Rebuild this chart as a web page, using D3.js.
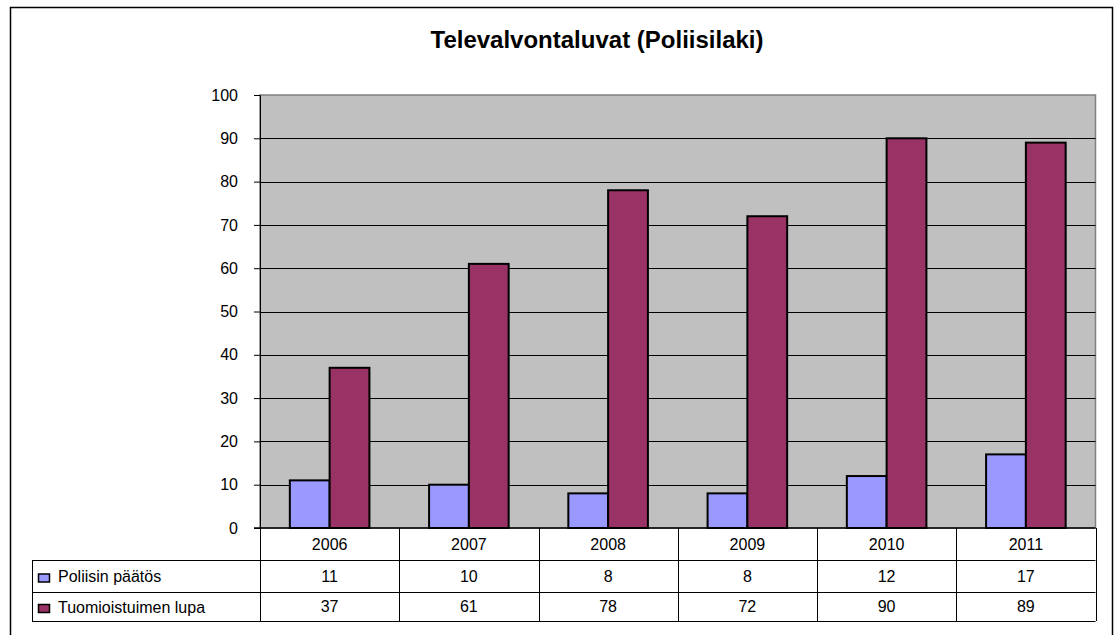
<!DOCTYPE html>
<html>
<head>
<meta charset="utf-8">
<script src="https://cdn.jsdelivr.net/npm/d3@7"></script>
<style>
  body { margin: 0; background: #fff; }
  svg { display: block; font-family: Arial, "Liberation Sans", sans-serif; }
</style>
</head>
<body>
<svg width="1116" height="635"></svg>
<script>
const years = ['2006', '2007', '2008', '2009', '2010', '2011']
const seriesNames = ['Poliisin päätös', 'Tuomioistuimen lupa']
const poliisi = [11, 10, 8, 8, 12, 17]
const tuomio = [37, 61, 78, 72, 90, 89]
const yTicks = [0, 10, 20, 30, 40, 50, 60, 70, 80, 90, 100]
const colors = ['#9999ff', '#993366']

const svg = d3.select('svg')

// chart frame
svg.append('rect')
  .attr('x', 10.5).attr('y', 7.5)
  .attr('width', 1102).attr('height', 640)
  .attr('fill', '#fff').attr('stroke', '#000').attr('stroke-width', 1.5)

const plot = { left: 260, top: 95, right: 1095.5, bottom: 528 }

const x = d3.scaleBand().domain(years).range([plot.left, plot.right])
const y = d3.scaleLinear().domain([0, 100]).range([plot.bottom, plot.top])
const xs = d3.scaleBand().domain(seriesNames)
  .range([0, x.bandwidth()]).paddingInner(0).paddingOuter(0.75)

svg.append('text')
  .attr('x', 597).attr('y', 48)
  .attr('text-anchor', 'middle')
  .attr('font-size', 24).attr('font-weight', 'bold')
  .text('Televalvontaluvat (Poliisilaki)')

// plot area
svg.append('rect')
  .attr('x', plot.left).attr('y', plot.top)
  .attr('width', plot.right - plot.left).attr('height', plot.bottom - plot.top)
  .attr('fill', '#c0c0c0').attr('stroke', '#808080').attr('stroke-width', 1.5)

// gridlines
svg.append('g')
  .selectAll('line')
  .data(yTicks.filter(d => d > 0 && d < 100))
  .join('line')
  .attr('x1', plot.left).attr('x2', plot.right)
  .attr('y1', d => Math.round(y(d)) + 0.5).attr('y2', d => Math.round(y(d)) + 0.5)
  .attr('stroke', '#000').attr('stroke-width', 1)

// y axis
const yAxis = svg.append('g')
  .attr('transform', `translate(${plot.left},0)`)
  .call(d3.axisLeft(y).tickValues(yTicks).tickSize(6).tickPadding(16))
yAxis.select('.domain').attr('stroke', '#000')
yAxis.selectAll('text').attr('font-size', 16).attr('fill', '#000')
  .attr('font-family', 'Arial, "Liberation Sans", sans-serif')

// bars
const series = [poliisi, tuomio]
series.forEach((vals, si) => {
  svg.append('g')
    .selectAll('rect')
    .data(vals)
    .join('rect')
    .attr('x', (d, i) => x(years[i]) + xs(seriesNames[si]))
    .attr('y', d => y(d))
    .attr('width', xs.bandwidth())
    .attr('height', d => y(0) - y(d))
    .attr('fill', colors[si])
    .attr('stroke', '#000').attr('stroke-width', 2)
})

// x axis line
svg.append('line')
  .attr('x1', plot.left - 6).attr('x2', plot.right)
  .attr('y1', plot.bottom).attr('y2', plot.bottom)
  .attr('stroke', '#000').attr('stroke-width', 1.5)

// data table
const rowY = [528, 560, 592, 621]
const tableLeft = 32
const table = svg.append('g').attr('stroke', '#000').attr('stroke-width', 1)

// horizontal lines
rowY.slice(1).forEach(ry => {
  table.append('line')
    .attr('x1', tableLeft).attr('x2', plot.right)
    .attr('y1', ry + 0.5).attr('y2', ry + 0.5)
})

// vertical lines
table.append('line')
  .attr('x1', tableLeft + 0.5).attr('x2', tableLeft + 0.5)
  .attr('y1', rowY[1]).attr('y2', rowY[3])
table.selectAll('line.v')
  .data(years.map(d => x(d)).concat([plot.right]))
  .join('line')
  .attr('class', 'v')
  .attr('x1', d => Math.round(d) + 0.5).attr('x2', d => Math.round(d) + 0.5)
  .attr('y1', rowY[0]).attr('y2', rowY[3])

svg.append('g')
  .selectAll('text')
  .data(years)
  .join('text')
  .attr('x', d => x(d) + x.bandwidth() / 2)
  .attr('y', (rowY[0] + rowY[1]) / 2 + 5.5)
  .attr('text-anchor', 'middle').attr('font-size', 16)
  .text(d => d)

series.forEach((vals, si) => {
  const cy = (rowY[si + 1] + rowY[si + 2]) / 2
  svg.append('rect')
    .attr('x', 38.5).attr('y', cy - 2)
    .attr('width', 11).attr('height', 8)
    .attr('fill', colors[si]).attr('stroke', '#000').attr('stroke-width', 1.5)
  svg.append('text')
    .attr('x', 58).attr('y', cy + 6)
    .attr('font-size', 16)
    .text(seriesNames[si])
  svg.append('g')
    .selectAll('text')
    .data(vals)
    .join('text')
    .attr('x', (d, i) => x(years[i]) + x.bandwidth() / 2)
    .attr('y', cy + 5.5)
    .attr('text-anchor', 'middle').attr('font-size', 16)
    .text(d => d)
})
</script>
</body>
</html>
